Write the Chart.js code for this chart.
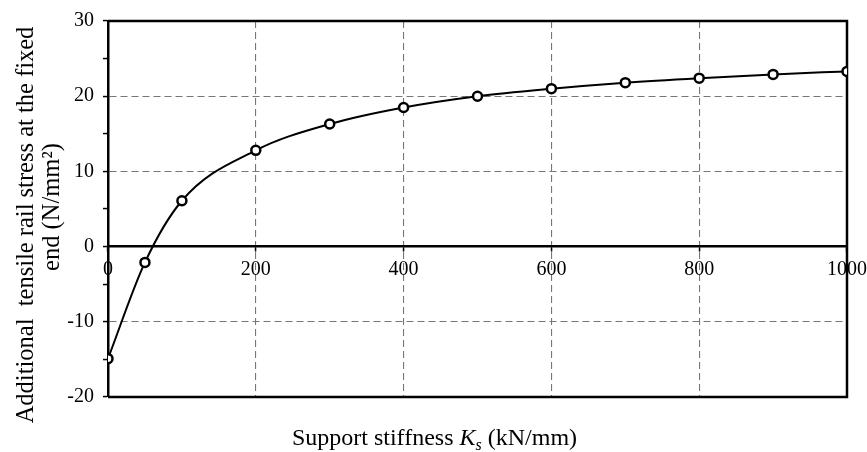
<!DOCTYPE html>
<html><head><meta charset="utf-8">
<script src="https://cdn.jsdelivr.net/npm/chart.js@4/dist/chart.umd.min.js"></script>
<style>html,body{margin:0;padding:0;background:#fff}</style>
</head><body>
<canvas id="c" width="867" height="452"></canvas>
<script>
const supportStiffness = [0, 50, 100, 200, 300, 400, 500, 600, 700, 800, 900, 1000];
const railStress = [-14.9, -2.1, 6.1, 12.8, 16.3, 18.5, 20.0, 21.0, 21.8, 22.4, 22.9, 23.3];
const xTickValues = [0, 200, 400, 600, 800, 1000];
const yTickValues = [-20, -10, 0, 10, 20, 30];
const yTitleLines = ['Additional  tensile rail stress at the fixed', 'end (N/mm\u00B2)'];
const xTitleParts = ['Support stiffness ', 'K', 's', ' (kN/mm)'];

const FONT = 'Liberation Serif, Times New Roman, serif';
const GRID = '#777777';

const framePlugin = {
  id: 'frame',
  beforeDatasetsDraw(chart) {
    const {ctx, chartArea: a} = chart;
    ctx.save();
    ctx.strokeStyle = '#000';
    ctx.lineWidth = 2.5;
    ctx.beginPath();
    ctx.moveTo(a.left, a.top);
    ctx.lineTo(a.right, a.top);
    ctx.lineTo(a.right, a.bottom);
    ctx.lineTo(a.left, a.bottom);
    ctx.stroke();
    ctx.restore();
  }
};

const titlePlugin = {
  id: 'titles',
  afterDraw(chart) {
    const ctx = chart.ctx;
    ctx.save();
    ctx.fillStyle = '#000';
    ctx.textBaseline = 'alphabetic';
    const big = '24px ' + FONT, bigI = 'italic 24px ' + FONT, smallI = 'italic 16px ' + FONT;
    const fonts = [big, bigI, smallI, big];
    const widths = xTitleParts.map((t, i) => { ctx.font = fonts[i]; return ctx.measureText(t).width; });
    const total = widths.reduce((s, w) => s + w, 0);
    let x = chart.width / 2 - total / 2 + 1;
    const baseY = 445;
    ctx.textAlign = 'left';
    xTitleParts.forEach((t, i) => {
      ctx.font = fonts[i];
      ctx.fillText(t, x, baseY + (i === 2 ? 5 : 0));
      x += widths[i];
    });
    ctx.font = '24.5px ' + FONT;
    ctx.textAlign = 'center';
    const pos = [[33, 225], [59, 207]];
    yTitleLines.forEach((t, i) => {
      ctx.save();
      ctx.translate(pos[i][0], pos[i][1]);
      ctx.rotate(-Math.PI / 2);
      ctx.fillText(t, 0, 0);
      ctx.restore();
    });
    ctx.restore();
  }
};

new Chart(document.getElementById('c'), {
  type: 'line',
  data: {
    datasets: [{
      data: supportStiffness.map((k, i) => ({x: k, y: railStress[i]})),
      borderColor: '#000',
      borderWidth: 2,
      backgroundColor: '#fff',
      pointRadius: 4.5,
      pointBorderWidth: 2.5,
      pointBackgroundColor: '#fff',
      pointBorderColor: '#000',
      cubicInterpolationMode: 'monotone',
      fill: false
    }]
  },
  options: {
    responsive: false,
    animation: false,
    devicePixelRatio: 1,
    layout: {padding: {left: 0, right: 20, top: 18, bottom: 55}},
    plugins: {legend: {display: false}, tooltip: {enabled: false}, title: {display: false}},
    scales: {
      x: {
        type: 'linear', min: 0, max: 1000,
        position: {y: 0},
        afterBuildTicks(s) { s.ticks = xTickValues.map(v => ({value: v})); },
        afterFit(s) { s.paddingLeft = 0; s.paddingRight = 0; },
        ticks: {color: '#000', font: {family: FONT, size: 20}, padding: 7, maxRotation: 0, autoSkip: false,
          callback: v => String(v)},
        grid: {
          color: c => (c.tick && c.tick.value > 0 && c.tick.value < 1000) ? GRID : 'rgba(0,0,0,0)',
          lineWidth: 1.1, tickColor: '#000', tickLength: 4, tickWidth: 1.5
        },
        border: {display: true, color: '#000', width: 2.5, dash: [7, 4]}
      },
      y: {
        type: 'linear', min: -20, max: 30,
        ticks: {
          stepSize: 5, color: '#000', font: {family: FONT, size: 20}, padding: 9,
          callback: v => yTickValues.includes(v) ? String(v) : ''
        },
        grid: {
          color: c => (c.tick && [-10, 10, 20].includes(c.tick.value)) ? GRID : 'rgba(0,0,0,0)',
          lineWidth: 1.1, tickColor: '#000', tickLength: 5, tickWidth: 1.5
        },
        border: {display: true, color: '#000', width: 2.5, dash: [7, 4]},
        afterFit(s) { s.width = 108; }
      }
    }
  },
  plugins: [framePlugin, titlePlugin]
});
</script>
</body></html>
